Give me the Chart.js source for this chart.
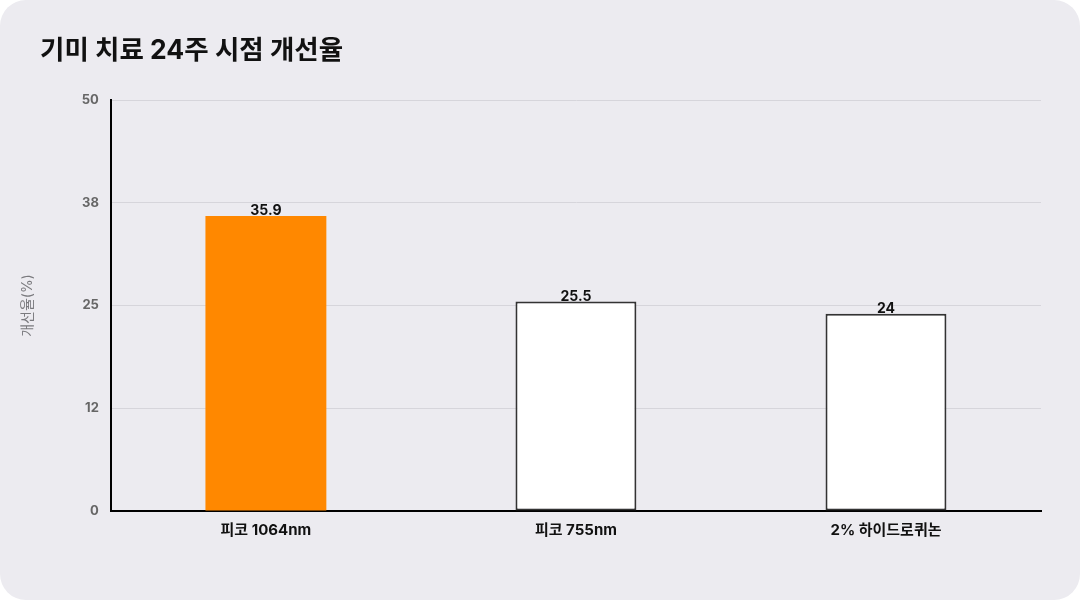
<!DOCTYPE html>
<html><head><meta charset="utf-8">
<script src="https://cdn.jsdelivr.net/npm/chart.js@4/dist/chart.umd.min.js"></script>
<style>
html,body{margin:0;padding:0;background:#ffffff;}
#card{position:absolute;left:0;top:0;width:1080px;height:600px;background:#ECEBF0;border-radius:26px;overflow:hidden;}
#title{position:absolute;left:40px;top:31px;margin:0;font-family:Inter,'Noto Sans CJK KR',sans-serif;font-size:26.5px;font-weight:700;color:#111;line-height:36px;white-space:nowrap;}
canvas{display:block;position:absolute;left:0;top:0;}
</style></head>
<body>
<div id="card"><canvas id="c" width="1080" height="600"></canvas><h1 id="title"></h1></div>
<script>
const categories = ['피코 1064nm', '피코 755nm', '2% 하이드로퀴논'];
const values = [35.9, 25.5, 24];
const yTickLabels = ['0', '12', '25', '38', '50'];
const chartTitle = '기미 치료 24주 시점 개선율';
const yAxisTitle = '개선율(%)';

document.getElementById('title').textContent = chartTitle;

const FONT = "Inter, 'Noto Sans CJK KR', 'Noto Sans', sans-serif";

const valueLabels = {
  id: 'valueLabels',
  afterDatasetsDraw(chart) {
    const ctx = chart.ctx;
    const meta = chart.getDatasetMeta(0);
    ctx.save();
    ctx.font = "bold 14px " + FONT;
    ctx.fillStyle = '#111111';
    ctx.textAlign = 'center';
    ctx.textBaseline = 'bottom';
    meta.data.forEach((bar, i) => {
      ctx.fillText(String(values[i]), bar.x, bar.y + 2);
    });
    ctx.restore();
  }
};

new Chart(document.getElementById('c'), {
  type: 'bar',
  data: {
    labels: categories,
    datasets: [{
      data: values,
      backgroundColor: ['#FF8800', '#FFFFFF', '#FFFFFF'],
      borderColor: ['#FF8800', '#333333', '#333333'],
      borderWidth: [0, 2, 2],
      borderSkipped: false,
      barPercentage: 0.39,
      categoryPercentage: 1.0
    }]
  },
  options: {
    responsive: false,
    animation: false,
    devicePixelRatio: 1,
    layout: { padding: { left: 19, right: 39, top: 100, bottom: 51 } },
    plugins: {
      legend: { display: false },
      tooltip: { enabled: false },
      title: { display: false }
    },
    scales: {
      x: {
        grid: { display: false, drawTicks: false },
        border: { display: true, color: '#000000', width: 2 },
        ticks: {
          color: '#111111',
          padding: 10,
          font: { family: FONT, size: 15, weight: 'bold' }
        }
      },
      y: {
        min: 0, max: 50,
        ticks: {
          stepSize: 12.5,
          padding: 12,
          color: '#666666',
          font: { family: FONT, size: 13, weight: 'bold' },
          callback: (v, i) => yTickLabels[i]
        },
        grid: { color: '#D6D5DB', lineWidth: 1, drawTicks: false },
        border: { display: true, color: '#000000', width: 2 },
        title: {
          display: true,
          text: yAxisTitle,
          color: '#7A7A7E',
          font: { family: FONT, size: 14 },
          padding: { top: 0, bottom: 34 }
        }
      }
    }
  },
  plugins: [valueLabels]
});
</script>
</body></html>
